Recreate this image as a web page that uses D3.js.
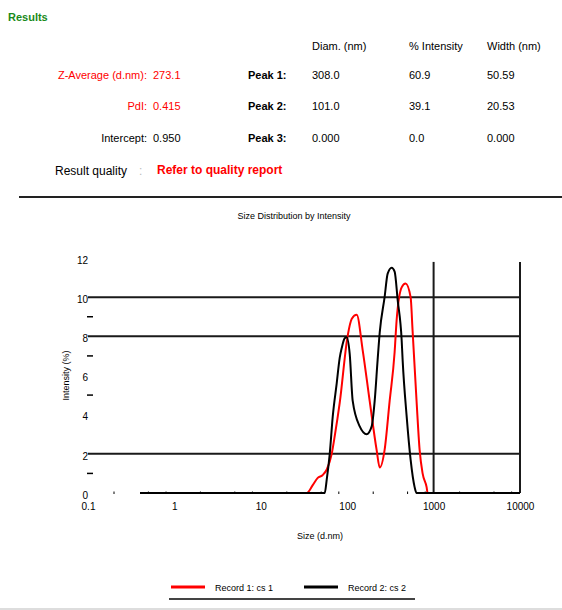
<!DOCTYPE html>
<html>
<head>
<meta charset="utf-8">
<script src="https://cdn.jsdelivr.net/npm/d3@7/dist/d3.min.js"></script>
<style>
  html, body { margin: 0; padding: 0; background: #fff; }
  svg { display: block; font-family: "Liberation Sans", Arial, sans-serif; }
</style>
</head>
<body>
<svg id="report" width="562" height="610"></svg>
<script>
// Summary table
const summaryLabels = ["Z-Average (d.nm):", "PdI:", "Intercept:"];
const summaryValues = ["273.1", "0.415", "0.950"];
const summaryColors = ["#ff0000", "#ff0000", "#000000"];
const peakHeaders = ["Diam. (nm)", "% Intensity", "Width (nm)"];
const peakLabels = ["Peak 1:", "Peak 2:", "Peak 3:"];
const peakDiam = ["308.0", "101.0", "0.000"];
const peakIntensity = ["60.9", "39.1", "0.0"];
const peakWidth = ["50.59", "20.53", "0.000"];

// Size distribution by intensity
const xTicks = [0.1, 1, 10, 100, 1000, 10000];
const xTickLabels = ["0.1", "1", "10", "100", "1000", "10000"];
const yTicks = [0, 2, 4, 6, 8, 10, 12];
const yMinorTicks = [1, 5, 7, 9];
const hGridValues = [2, 8, 10];
const vGridValues = [1000, 10000];
const seriesNames = ["Record 1: cs 1", "Record 2: cs 2"];
const seriesColors = ["#ff0000", "#000000"];

const record1Size = [0.4, 34.0, 39.9, 45.6, 52.1, 58.0, 66.2, 71.7, 81.9, 101, 113, 128.8, 151, 182, 219, 238, 271, 310, 354, 373, 427, 474, 542, 571, 635, 689, 746, 830, 853, 10000];
const record1Intensity = [0, 0, 0.4, 0.77, 0.92, 1.2, 2.0, 2.9, 4.6, 8.0, 8.9, 9.1, 7.3, 4.7, 2.2, 1.3, 2.2, 4.7, 7.2, 8.8, 10.5, 10.7, 10.0, 8.3, 4.7, 2.2, 1.0, 0.3, 0, 0];

const record2Size = [0.4, 54.9, 58.0, 62.8, 68.0, 75.6, 81.9, 86.4, 93.6, 98.7, 106.9, 115.8, 139.6, 168, 192, 208, 225, 238, 271, 294, 327, 354, 384, 427, 438, 488, 542, 603, 635, 10000];
const record2Intensity = [0, 0, 0.7, 2.0, 3.9, 5.6, 6.9, 7.4, 7.9, 7.95, 7.1, 4.7, 3.4, 3.0, 3.4, 4.7, 6.8, 8.2, 10.0, 11.2, 11.5, 11.3, 9.85, 7.8, 6.8, 3.9, 1.7, 0.3, 0, 0];

const svg = d3.select("#report");

// ---- Header block ----
svg.append("text").attr("x", 8).attr("y", 21)
  .attr("font-size", 11).attr("font-weight", "bold").attr("fill", "#1a8a1a")
  .text("Results");

const colX = [312, 409, 487];
peakHeaders.forEach((h, i) => {
  svg.append("text").attr("x", colX[i]).attr("y", 50)
    .attr("font-size", 11).attr("fill", "#000").text(h);
});

const rowY = [79, 110, 142];
summaryLabels.forEach((lab, i) => {
  svg.append("text").attr("x", 147).attr("y", rowY[i]).attr("text-anchor", "end")
    .attr("font-size", 11).attr("fill", summaryColors[i]).text(lab);
  svg.append("text").attr("x", 153).attr("y", rowY[i])
    .attr("font-size", 11).attr("fill", summaryColors[i]).text(summaryValues[i]);
});
peakLabels.forEach((lab, i) => {
  svg.append("text").attr("x", 248).attr("y", rowY[i])
    .attr("font-size", 11).attr("font-weight", "bold").attr("fill", "#000").text(lab);
  [peakDiam, peakIntensity, peakWidth].forEach((col, j) => {
    svg.append("text").attr("x", colX[j]).attr("y", rowY[i])
      .attr("font-size", 11).attr("fill", "#000").text(col[i]);
  });
});

svg.append("text").attr("x", 55).attr("y", 175)
  .attr("font-size", 12).attr("fill", "#000").text("Result quality");
svg.append("text").attr("x", 139).attr("y", 175)
  .attr("font-size", 12).attr("fill", "#bbb").text(":");
svg.append("text").attr("x", 157).attr("y", 174)
  .attr("font-size", 12).attr("font-weight", "bold").attr("fill", "#ff0000")
  .text("Refer to quality report");

svg.append("line").attr("x1", 19).attr("x2", 562).attr("y1", 197).attr("y2", 197)
  .attr("stroke", "#222").attr("stroke-width", 2);

// ---- Chart ----
const x = d3.scaleLog().domain([0.1, 10000]).range([88, 520]);
const y = d3.scaleLinear().domain([0, 12]).range([493, 258]);

svg.append("text").attr("x", 294).attr("y", 219).attr("text-anchor", "middle")
  .attr("font-size", 9).attr("fill", "#000").text("Size Distribution by Intensity");

const grid = svg.append("g").attr("stroke", "#1a1a1a").attr("stroke-width", 2);
hGridValues.forEach(v => {
  grid.append("line").attr("x1", x(0.1)).attr("x2", x(10000))
    .attr("y1", y(v)).attr("y2", y(v));
});
vGridValues.forEach(v => {
  grid.append("line").attr("x1", x(v)).attr("x2", x(v))
    .attr("y1", y(11.8)).attr("y2", y(0));
});

// y axis labels and minor dashes
const yAxis = d3.axisLeft(y).tickValues(yTicks).tickSize(0).tickPadding(0)
  .tickFormat(d3.format("d"));
const yg = svg.append("g").attr("transform", "translate(88,2)").call(yAxis);
yg.select(".domain").remove();
yg.selectAll("text").attr("font-size", 10).attr("font-family", "Liberation Sans, Arial, sans-serif").attr("fill", "#000");
svg.append("g").selectAll("line").data(yMinorTicks).join("line")
  .attr("x1", 87).attr("x2", 93).attr("y1", d => y(d)).attr("y2", d => y(d))
  .attr("stroke", "#000").attr("stroke-width", 1.5);

svg.append("text")
  .attr("transform", `translate(69,${y(6)}) rotate(-90)`)
  .attr("text-anchor", "middle").attr("font-size", 9).attr("fill", "#000")
  .text("Intensity (%)");

// x axis labels
const xAxis = d3.axisBottom(x).tickValues(xTicks).tickSize(0).tickPadding(0)
  .tickFormat((d, i) => xTickLabels[i]);
const xg = svg.append("g").attr("transform", `translate(0,${y(0) + 10})`).call(xAxis);
xg.select(".domain").remove();
xg.selectAll("text").attr("font-size", 10).attr("font-family", "Liberation Sans, Arial, sans-serif").attr("fill", "#000");

svg.append("text").attr("x", 320).attr("y", 539).attr("text-anchor", "middle")
  .attr("font-size", 9).attr("fill", "#000").text("Size (d.nm)");

// data lines
const line = d3.line().x(d => x(d[0])).y(d => y(d[1])).curve(d3.curveMonotoneX);
const records = [
  d3.zip(record1Size, record1Intensity),
  d3.zip(record2Size, record2Intensity)
];
records.forEach((pts, i) => {
  svg.append("path").datum(pts).attr("d", line)
    .attr("fill", "none").attr("stroke", seriesColors[i]).attr("stroke-width", 2);
});

// minor log ticks along the baseline
const minorX = [];
for (let e = -1; e < 4; e++) for (let m = 2; m <= 9; m += 3) minorX.push(m * Math.pow(10, e));
svg.append("g").selectAll("line").data(minorX).join("line")
  .attr("x1", d => x(d)).attr("x2", d => x(d))
  .attr("y1", y(0) - 1.5).attr("y2", y(0) + 1)
  .attr("stroke", "#000").attr("stroke-width", 1);

// legend
const legX = [171, 304];
seriesNames.forEach((n, i) => {
  svg.append("line").attr("x1", legX[i]).attr("x2", legX[i] + 34)
    .attr("y1", 587).attr("y2", 587).attr("stroke", seriesColors[i]).attr("stroke-width", 3);
  svg.append("text").attr("x", legX[i] + 44).attr("y", 591)
    .attr("font-size", 9).attr("fill", "#000").text(n);
});
svg.append("line").attr("x1", 169).attr("x2", 415).attr("y1", 599).attr("y2", 599)
  .attr("stroke", "#444").attr("stroke-width", 2);
svg.append("line").attr("x1", 0).attr("x2", 562).attr("y1", 609).attr("y2", 609)
  .attr("stroke", "#bbb").attr("stroke-width", 1);
</script>
</body>
</html>
